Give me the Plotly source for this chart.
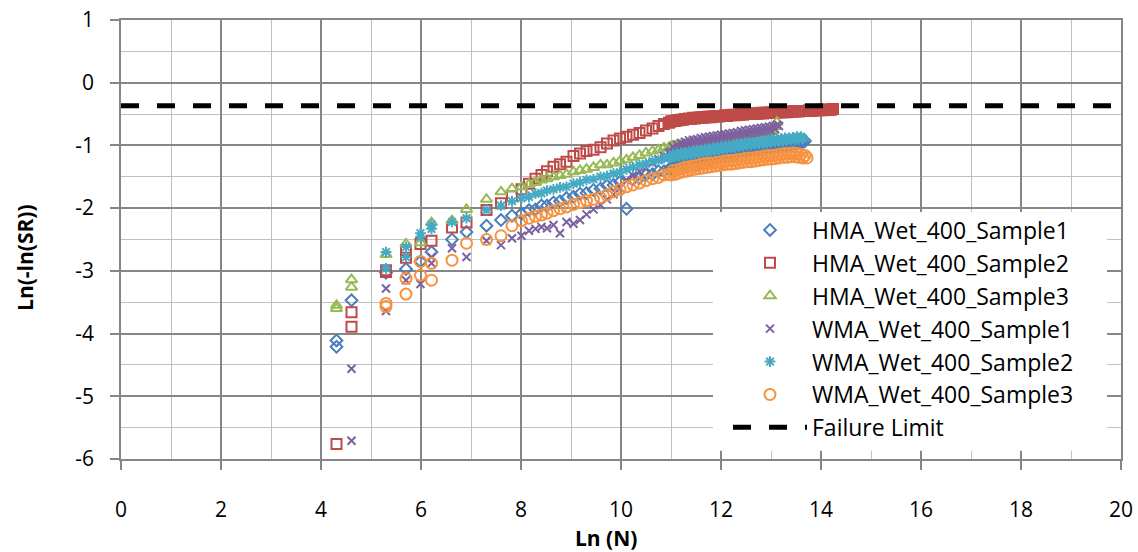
import plotly.graph_objects as go

# ln(N) positions of the later readings, shared by every specimen
TAIL_X = [7.60, 7.82, 8.01, 8.16, 8.29, 8.41, 8.52, 8.65, 8.78, 8.91,
          9.05, 9.18, 9.31, 9.45, 9.59, 9.72, 9.85, 9.98, 10.11, 10.24,
          10.37, 10.50, 10.63, 10.75, 10.86, 10.96,
          11.00, 11.04, 11.08, 11.12, 11.16, 11.20, 11.24, 11.28, 11.32, 11.36,
          11.40, 11.44, 11.48, 11.52, 11.56, 11.60, 11.64, 11.68, 11.72, 11.76,
          11.80, 11.84, 11.88, 11.92, 11.96, 12.00, 12.04, 12.08, 12.12, 12.16,
          12.20, 12.24, 12.28, 12.32, 12.36, 12.40, 12.44, 12.48, 12.52, 12.56,
          12.60, 12.64, 12.68, 12.72, 12.76, 12.80, 12.84, 12.88, 12.92, 12.96,
          13.00, 13.04, 13.08, 13.12, 13.16, 13.20, 13.24, 13.28, 13.32, 13.36,
          13.40, 13.44, 13.48, 13.52, 13.56, 13.60, 13.64, 13.68, 13.72, 13.76,
          13.80, 13.84, 13.88, 13.92, 13.96, 14.00, 14.04, 14.08, 14.12, 14.16,
          14.20, 14.24]

# HMA_Wet_400_Sample1
HMA1_X_EARLY = [4.31, 4.31, 4.61, 5.30, 5.70, 5.99, 6.21, 6.62, 6.91, 7.31]
HMA1_Y_EARLY = [-4.11, -4.21, -3.47, -3.03, -2.97, -2.85, -2.70, -2.50, -2.38, -2.28]
HMA1_Y_TAIL = [-2.19, -2.12, -2.09, -2.03, -2.02, -1.96, -1.96, -1.91, -1.89, -1.84,
               -1.82, -1.77, -1.76, -1.71, -1.69, -1.64, -1.63, -1.58, -2.01, -1.54,
               -1.52, -1.47, -1.46, -1.41, -1.41, -1.38,
               -1.37, -1.35, -1.37, -1.34, -1.35, -1.32, -1.34, -1.31, -1.32, -1.30,
               -1.31, -1.28, -1.30, -1.27, -1.28, -1.25, -1.27, -1.24, -1.25, -1.22,
               -1.24, -1.21, -1.22, -1.19, -1.21, -1.18, -1.19, -1.16, -1.18, -1.15,
               -1.16, -1.13, -1.15, -1.12, -1.13, -1.11, -1.12, -1.09, -1.11, -1.08,
               -1.09, -1.07, -1.08, -1.05, -1.07, -1.04, -1.05, -1.03, -1.04, -1.01,
               -1.03, -1.00, -1.02, -0.99, -1.01, -0.98, -1.00, -0.97, -0.99, -0.97,
               -0.98, -0.96, -0.97, -0.95, -0.96, -0.94, -0.95, -0.93]

# HMA_Wet_400_Sample2
HMA2_X_EARLY = [4.31, 4.61, 4.61, 5.30, 5.30, 5.70, 5.70, 5.99, 6.21, 6.62, 6.91, 7.31]
HMA2_Y_EARLY = [-5.76, -3.66, -3.89, -2.99, -3.02, -2.67, -2.79, -2.57, -2.52, -2.31, -2.23, -2.03]
HMA2_Y_TAIL = [-1.92, -1.81, -1.70, -1.61, -1.53, -1.47, -1.41, -1.34, -1.30, -1.26,
               -1.17, -1.13, -1.09, -1.07, -1.03, -0.97, -0.92, -0.89, -0.86, -0.83,
               -0.80, -0.76, -0.73, -0.69, -0.66, -0.64,
               -0.62, -0.61, -0.61, -0.60, -0.60, -0.59, -0.59, -0.58, -0.58, -0.57,
               -0.58, -0.56, -0.57, -0.56, -0.56, -0.55, -0.56, -0.55, -0.55, -0.54,
               -0.55, -0.54, -0.54, -0.53, -0.54, -0.53, -0.53, -0.52, -0.53, -0.52,
               -0.52, -0.51, -0.52, -0.51, -0.51, -0.50, -0.51, -0.50, -0.50, -0.49,
               -0.50, -0.49, -0.50, -0.49, -0.49, -0.48, -0.49, -0.48, -0.48, -0.48,
               -0.48, -0.47, -0.48, -0.47, -0.47, -0.47, -0.47, -0.46, -0.47, -0.46,
               -0.46, -0.46, -0.46, -0.45, -0.46, -0.45, -0.45, -0.45, -0.45, -0.44,
               -0.45, -0.44, -0.44, -0.44, -0.44, -0.43, -0.44, -0.43, -0.43, -0.43,
               -0.43, -0.42]

# HMA_Wet_400_Sample3
HMA3_X_EARLY = [4.31, 4.31, 4.61, 4.61, 5.30, 5.70, 5.99, 6.21, 6.62, 6.91, 7.31]
HMA3_Y_EARLY = [-3.55, -3.60, -3.14, -3.26, -2.74, -2.57, -2.55, -2.23, -2.20, -2.02, -1.86]
HMA3_Y_TAIL = [-1.74, -1.69, -1.66, -1.62, -1.59, -1.55, -1.53, -1.50, -1.48, -1.46,
               -1.42, -1.40, -1.38, -1.35, -1.31, -1.31, -1.28, -1.25, -1.23, -1.19,
               -1.16, -1.12, -1.09, -1.07, -1.04, -1.03,
               -1.02, -1.01, -1.01, -1.00, -1.00, -1.00, -0.99, -0.99, -0.99, -0.99,
               -1.00, -0.99, -0.99, -0.98, -0.98, -0.97, -0.97, -0.96, -0.96, -0.95,
               -0.94, -0.94, -0.93, -0.93, -0.92, -0.92, -0.91, -0.91, -0.90, -0.90,
               -0.89, -0.89, -0.88, -0.87, -0.87, -0.86, -0.86, -0.85, -0.85, -0.84,
               -0.83, -0.83, -0.82, -0.82, -0.81, -0.81, -0.80, -0.80, -0.79, -0.78,
               -0.78, -0.76, -0.70, -0.63]

# WMA_Wet_400_Sample1
WMA1_X_EARLY = [4.61, 4.61, 5.30, 5.30, 5.70, 5.99, 6.21, 6.21, 6.62, 6.91, 7.31]
WMA1_Y_EARLY = [-5.71, -4.56, -3.28, -3.64, -3.15, -3.21, -2.78, -2.88, -2.64, -2.78, -2.52]
WMA1_Y_TAIL = [-2.59, -2.48, -2.44, -2.36, -2.33, -2.30, -2.32, -2.27, -2.40, -2.22,
               -2.25, -2.19, -2.10, -2.02, -1.95, -1.86, -1.78, -1.68, -1.55, -1.48,
               -1.41, -1.35, -1.28, -1.22, -1.17, -1.12,
               -1.10, -1.02, -1.08, -0.99, -1.05, -0.96, -1.03, -0.94, -1.00, -0.92,
               -0.99, -0.91, -0.97, -0.90, -0.96, -0.88, -0.95, -0.87, -0.94, -0.86,
               -0.93, -0.85, -0.92, -0.84, -0.91, -0.83, -0.90, -0.82, -0.89, -0.81,
               -0.88, -0.80, -0.86, -0.79, -0.85, -0.77, -0.84, -0.76, -0.83, -0.75,
               -0.82, -0.74, -0.81, -0.73, -0.80, -0.72, -0.79, -0.71, -0.78, -0.70,
               -0.77, -0.69, -0.74, -0.67, -0.69]

# WMA_Wet_400_Sample2
WMA2_X_EARLY = [5.30, 5.30, 5.70, 5.70, 5.99, 5.99, 6.21, 6.21, 6.62, 6.91, 7.31]
WMA2_Y_EARLY = [-2.70, -2.96, -2.62, -2.78, -2.40, -2.46, -2.26, -2.33, -2.22, -2.16, -2.03]
WMA2_Y_TAIL = [-1.96, -1.89, -1.84, -1.82, -1.77, -1.76, -1.72, -1.70, -1.67, -1.66,
               -1.61, -1.59, -1.55, -1.54, -1.50, -1.49, -1.45, -1.43, -1.38, -1.35,
               -1.31, -1.29, -1.25, -1.24, -1.20, -1.20,
               -1.19, -1.14, -1.18, -1.13, -1.17, -1.12, -1.16, -1.11, -1.15, -1.10,
               -1.14, -1.09, -1.13, -1.08, -1.12, -1.07, -1.11, -1.06, -1.10, -1.05,
               -1.09, -1.04, -1.08, -1.03, -1.07, -1.02, -1.06, -1.01, -1.05, -1.00,
               -1.04, -0.99, -1.03, -0.98, -1.02, -0.97, -1.01, -0.96, -1.00, -0.95,
               -0.99, -0.95, -0.98, -0.94, -0.97, -0.93, -0.97, -0.92, -0.96, -0.91,
               -0.95, -0.91, -0.94, -0.90, -0.93, -0.89, -0.93, -0.88, -0.92, -0.88,
               -0.91, -0.87, -0.91, -0.86, -0.90, -0.86, -0.89]

# WMA_Wet_400_Sample3
WMA3_X_EARLY = [5.30, 5.30, 5.70, 5.70, 5.99, 5.99, 6.21, 6.21, 6.62, 6.91, 7.31]
WMA3_Y_EARLY = [-3.52, -3.57, -3.12, -3.37, -2.85, -3.07, -2.88, -3.15, -2.83, -2.56, -2.50]
WMA3_Y_TAIL = [-2.44, -2.28, -2.20, -2.16, -2.13, -2.11, -2.08, -2.04, -2.01, -1.98,
               -1.94, -1.91, -1.88, -1.86, -1.83, -1.79, -1.74, -1.70, -1.66, -1.63,
               -1.60, -1.56, -1.53, -1.51, -1.47, -1.46,
               -1.47, -1.40, -1.46, -1.39, -1.44, -1.37, -1.42, -1.35, -1.41, -1.34,
               -1.39, -1.33, -1.38, -1.32, -1.37, -1.30, -1.36, -1.29, -1.35, -1.28,
               -1.34, -1.28, -1.33, -1.27, -1.32, -1.26, -1.31, -1.25, -1.30, -1.24,
               -1.30, -1.24, -1.29, -1.23, -1.28, -1.22, -1.27, -1.21, -1.26, -1.20,
               -1.26, -1.20, -1.25, -1.19, -1.24, -1.18, -1.23, -1.17, -1.22, -1.16,
               -1.22, -1.16, -1.21, -1.15, -1.20, -1.14, -1.19, -1.13, -1.19, -1.13,
               -1.18, -1.12, -1.18, -1.13, -1.19, -1.14, -1.20, -1.16, -1.20]

FAILURE_LIMIT = -0.3665
X_RANGE = [0, 20]
Y_RANGE = [-6, 1]
X_TICKS = [0, 2, 4, 6, 8, 10, 12, 14, 16, 18, 20]
Y_TICKS = [-6, -5, -4, -3, -2, -1, 0, 1]
Y_TICK_LABELS = ["-6", "-5", "-4", "-3", "-2", "-1", "0", "1"]

SERIES = [
    ("HMA_Wet_400_Sample1", HMA1_X_EARLY, HMA1_Y_EARLY, HMA1_Y_TAIL, "diamond-open", "#4A7EBB", 9),
    ("HMA_Wet_400_Sample2", HMA2_X_EARLY, HMA2_Y_EARLY, HMA2_Y_TAIL, "square-open", "#BE4B48", 10),
    ("HMA_Wet_400_Sample3", HMA3_X_EARLY, HMA3_Y_EARLY, HMA3_Y_TAIL, "triangle-up-open", "#98B954", 10),
    ("WMA_Wet_400_Sample1", WMA1_X_EARLY, WMA1_Y_EARLY, WMA1_Y_TAIL, "x-thin-open", "#7D60A0", 8),
    ("WMA_Wet_400_Sample2", WMA2_X_EARLY, WMA2_Y_EARLY, WMA2_Y_TAIL, "asterisk-open", "#46AAC5", 9),
    ("WMA_Wet_400_Sample3", WMA3_X_EARLY, WMA3_Y_EARLY, WMA3_Y_TAIL, "circle-open", "#F69240", 11),
]

FONT = "Open Sans"
MAJOR = "#868686"
MINOR = "#C0C0C0"

fig = go.Figure()
for i, (name, xe, ye, yt, sym, col, size) in enumerate(SERIES):
    fig.add_trace(go.Scatter(
        x=xe + TAIL_X[:len(yt)], y=ye + yt, mode="markers", name=name,
        legendgroup=f"g{i}",
        marker=dict(symbol=sym, size=size, color=col, line=dict(width=2, color=col)),
    ))

fig.add_trace(go.Scatter(
    x=X_RANGE, y=[FAILURE_LIMIT, FAILURE_LIMIT], mode="lines", name="Failure Limit",
    legendgroup="g6",
    line=dict(color="black", width=5, dash="18px,18px"),
))

# white panel behind the legend, above the gridlines
fig.add_shape(type="rect", xref="x", yref="y", x0=11.84, x1=19.72, y0=-5.87, y1=-2.06,
              fillcolor="white", line=dict(width=0), layer="between")

axis_common = dict(
    showgrid=True, gridcolor=MAJOR, gridwidth=1.5, zeroline=False,
    showline=True, linecolor=MAJOR, linewidth=1.5, mirror=True,
    ticks="outside", ticklen=9, tickcolor=MAJOR, tickwidth=1.5,
    tickfont=dict(family=FONT, size=21, color="black"),
    automargin=False,
)
fig.update_xaxes(range=X_RANGE, tickvals=X_TICKS, ticklabelstandoff=22,
                 minor=dict(dtick=1, tick0=0, showgrid=True, gridcolor=MINOR, gridwidth=1.2),
                 **axis_common)
fig.update_yaxes(range=Y_RANGE, tickvals=Y_TICKS, ticktext=Y_TICK_LABELS, ticklabelstandoff=12,
                 minor=dict(dtick=0.5, tick0=0, showgrid=True, gridcolor=MINOR, gridwidth=1.2),
                 **axis_common)

fig.add_annotation(text="<b>Ln (N)</b>", xref="paper", yref="paper", x=0.485, y=-0.18,
                   showarrow=False, font=dict(family=FONT, size=21, color="black"),
                   xanchor="center", yanchor="middle")
fig.add_annotation(text="<b>Ln(-ln(SR))</b>", xref="paper", yref="paper", x=-0.096, y=0.458,
                   showarrow=False, textangle=-90, font=dict(family=FONT, size=21, color="black"),
                   xanchor="center", yanchor="middle")

fig.update_layout(
    width=1138, height=552,
    margin=dict(l=121, r=17, t=20, b=93),
    paper_bgcolor="white", plot_bgcolor="white",
    showlegend=True,
    legend=dict(x=0.607, y=0.5706, xanchor="left", yanchor="top",
                bgcolor="rgba(0,0,0,0)", borderwidth=0,
                font=dict(family=FONT, size=23, color="black"),
                tracegroupgap=0, itemwidth=74),
)

fig.write_html("out.html")
